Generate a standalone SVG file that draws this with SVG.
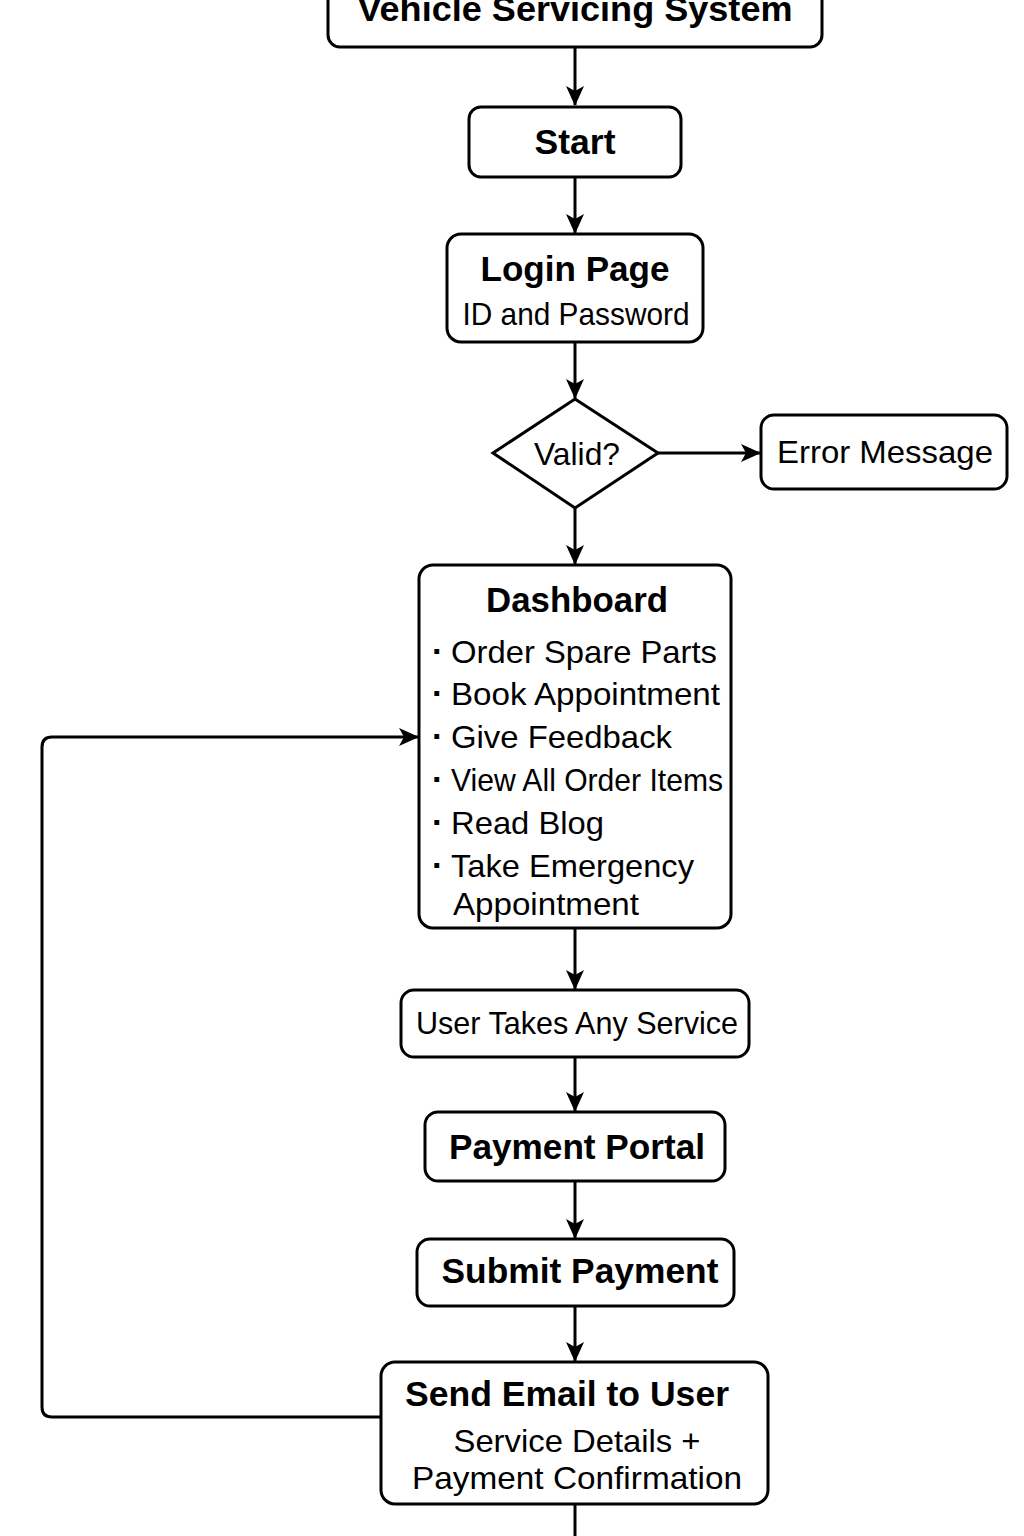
<svg xmlns="http://www.w3.org/2000/svg" width="1024" height="1536" viewBox="0 0 1024 1536">
<defs>
<style>
.box{fill:#fff;stroke:#000;stroke-width:3}
.b{font-family:"Liberation Sans",Arial,sans-serif;font-weight:bold;font-size:35px;fill:#000}
.r{font-family:"Liberation Sans",Arial,sans-serif;font-size:32px;fill:#000}
.d{font-family:"Liberation Sans",Arial,sans-serif;font-weight:bold;font-size:34px;fill:#000}
.c{text-anchor:middle}
.ln{fill:none;stroke:#000;stroke-width:3}
</style>
<marker id="ah" markerUnits="userSpaceOnUse" markerWidth="20" markerHeight="18" refX="19" refY="9" orient="auto">
<path d="M0,0 L20,9 L0,18 L5,9 z" fill="#000"/>
</marker>
</defs>
<rect width="1024" height="1536" fill="#fff"/>
<g id="connectors">
<path class="ln" d="M575,47 V105" marker-end="url(#ah)"/>
<path class="ln" d="M575,177 V233" marker-end="url(#ah)"/>
<path class="ln" d="M575,342 V398" marker-end="url(#ah)"/>
<path class="ln" d="M658,453 H760" marker-end="url(#ah)"/>
<path class="ln" d="M575,508 V564" marker-end="url(#ah)"/>
<path class="ln" d="M575,928 V989" marker-end="url(#ah)"/>
<path class="ln" d="M575,1057 V1111" marker-end="url(#ah)"/>
<path class="ln" d="M575,1181 V1238" marker-end="url(#ah)"/>
<path class="ln" d="M575,1306 V1361" marker-end="url(#ah)"/>
<path class="ln" d="M575,1504 V1536"/>
<path class="ln" d="M381,1417 H52 Q42,1417 42,1407 V747 Q42,737 52,737 H418" marker-end="url(#ah)"/>
</g>
<g id="title">
<rect class="box" x="328" y="-30" width="494" height="77" rx="12"/>
<text class="b c" x="575" y="21" textLength="435" lengthAdjust="spacingAndGlyphs">Vehicle Servicing System</text>
</g>
<g id="start">
<rect class="box" x="469" y="107" width="212" height="70" rx="12"/>
<text class="b c" x="575" y="154" textLength="81" lengthAdjust="spacingAndGlyphs">Start</text>
</g>
<g id="login">
<rect class="box" x="447" y="234" width="256" height="108" rx="14"/>
<text class="b c" x="575" y="281" textLength="189" lengthAdjust="spacingAndGlyphs">Login Page</text>
<text class="r c" x="576" y="325" textLength="227" lengthAdjust="spacingAndGlyphs">ID and Password</text>
</g>
<g id="valid">
<polygon class="box" points="575,399 658,453 575,508 493,453"/>
<text class="r c" x="577" y="465" textLength="86" lengthAdjust="spacingAndGlyphs">Valid?</text>
</g>
<g id="error">
<rect class="box" x="761" y="415" width="246" height="74" rx="13"/>
<text class="r c" x="885" y="463" textLength="216" lengthAdjust="spacingAndGlyphs">Error Message</text>
</g>
<g id="dashboard">
<rect class="box" x="419" y="565" width="312" height="363" rx="14"/>
<text class="b c" x="577" y="612" textLength="182" lengthAdjust="spacingAndGlyphs">Dashboard</text>
<text class="d" x="432" y="663">·</text><text class="r" x="451" y="663" textLength="266" lengthAdjust="spacingAndGlyphs">Order Spare Parts</text>
<text class="d" x="432" y="705">·</text><text class="r" x="451" y="705" textLength="269" lengthAdjust="spacingAndGlyphs">Book Appointment</text>
<text class="d" x="432" y="748">·</text><text class="r" x="451" y="748" textLength="221" lengthAdjust="spacingAndGlyphs">Give Feedback</text>
<text class="d" x="432" y="791">·</text><text class="r" x="451" y="791" textLength="272" lengthAdjust="spacingAndGlyphs">View All Order Items</text>
<text class="d" x="432" y="834">·</text><text class="r" x="451" y="834" textLength="153" lengthAdjust="spacingAndGlyphs">Read Blog</text>
<text class="d" x="432" y="877">·</text><text class="r" x="451" y="877" textLength="243" lengthAdjust="spacingAndGlyphs">Take Emergency</text>
<text class="r" x="453" y="915" textLength="186" lengthAdjust="spacingAndGlyphs">Appointment</text>
</g>
<g id="takes">
<rect class="box" x="401" y="990" width="348" height="67" rx="13"/>
<text class="r c" x="577" y="1034" textLength="322" lengthAdjust="spacingAndGlyphs">User Takes Any Service</text>
</g>
<g id="portal">
<rect class="box" x="425" y="1112" width="300" height="69" rx="13"/>
<text class="b c" x="577" y="1159" textLength="256" lengthAdjust="spacingAndGlyphs">Payment Portal</text>
</g>
<g id="submit">
<rect class="box" x="417" y="1239" width="317" height="67" rx="13"/>
<text class="b c" x="580" y="1283" textLength="277" lengthAdjust="spacingAndGlyphs">Submit Payment</text>
</g>
<g id="email">
<rect class="box" x="381" y="1362" width="387" height="142" rx="14"/>
<text class="b c" x="567" y="1406" textLength="324" lengthAdjust="spacingAndGlyphs">Send Email to User</text>
<text class="r c" x="577" y="1452" textLength="247" lengthAdjust="spacingAndGlyphs">Service Details +</text>
<text class="r c" x="577" y="1489" textLength="330" lengthAdjust="spacingAndGlyphs">Payment Confirmation</text>
</g>
</svg>
